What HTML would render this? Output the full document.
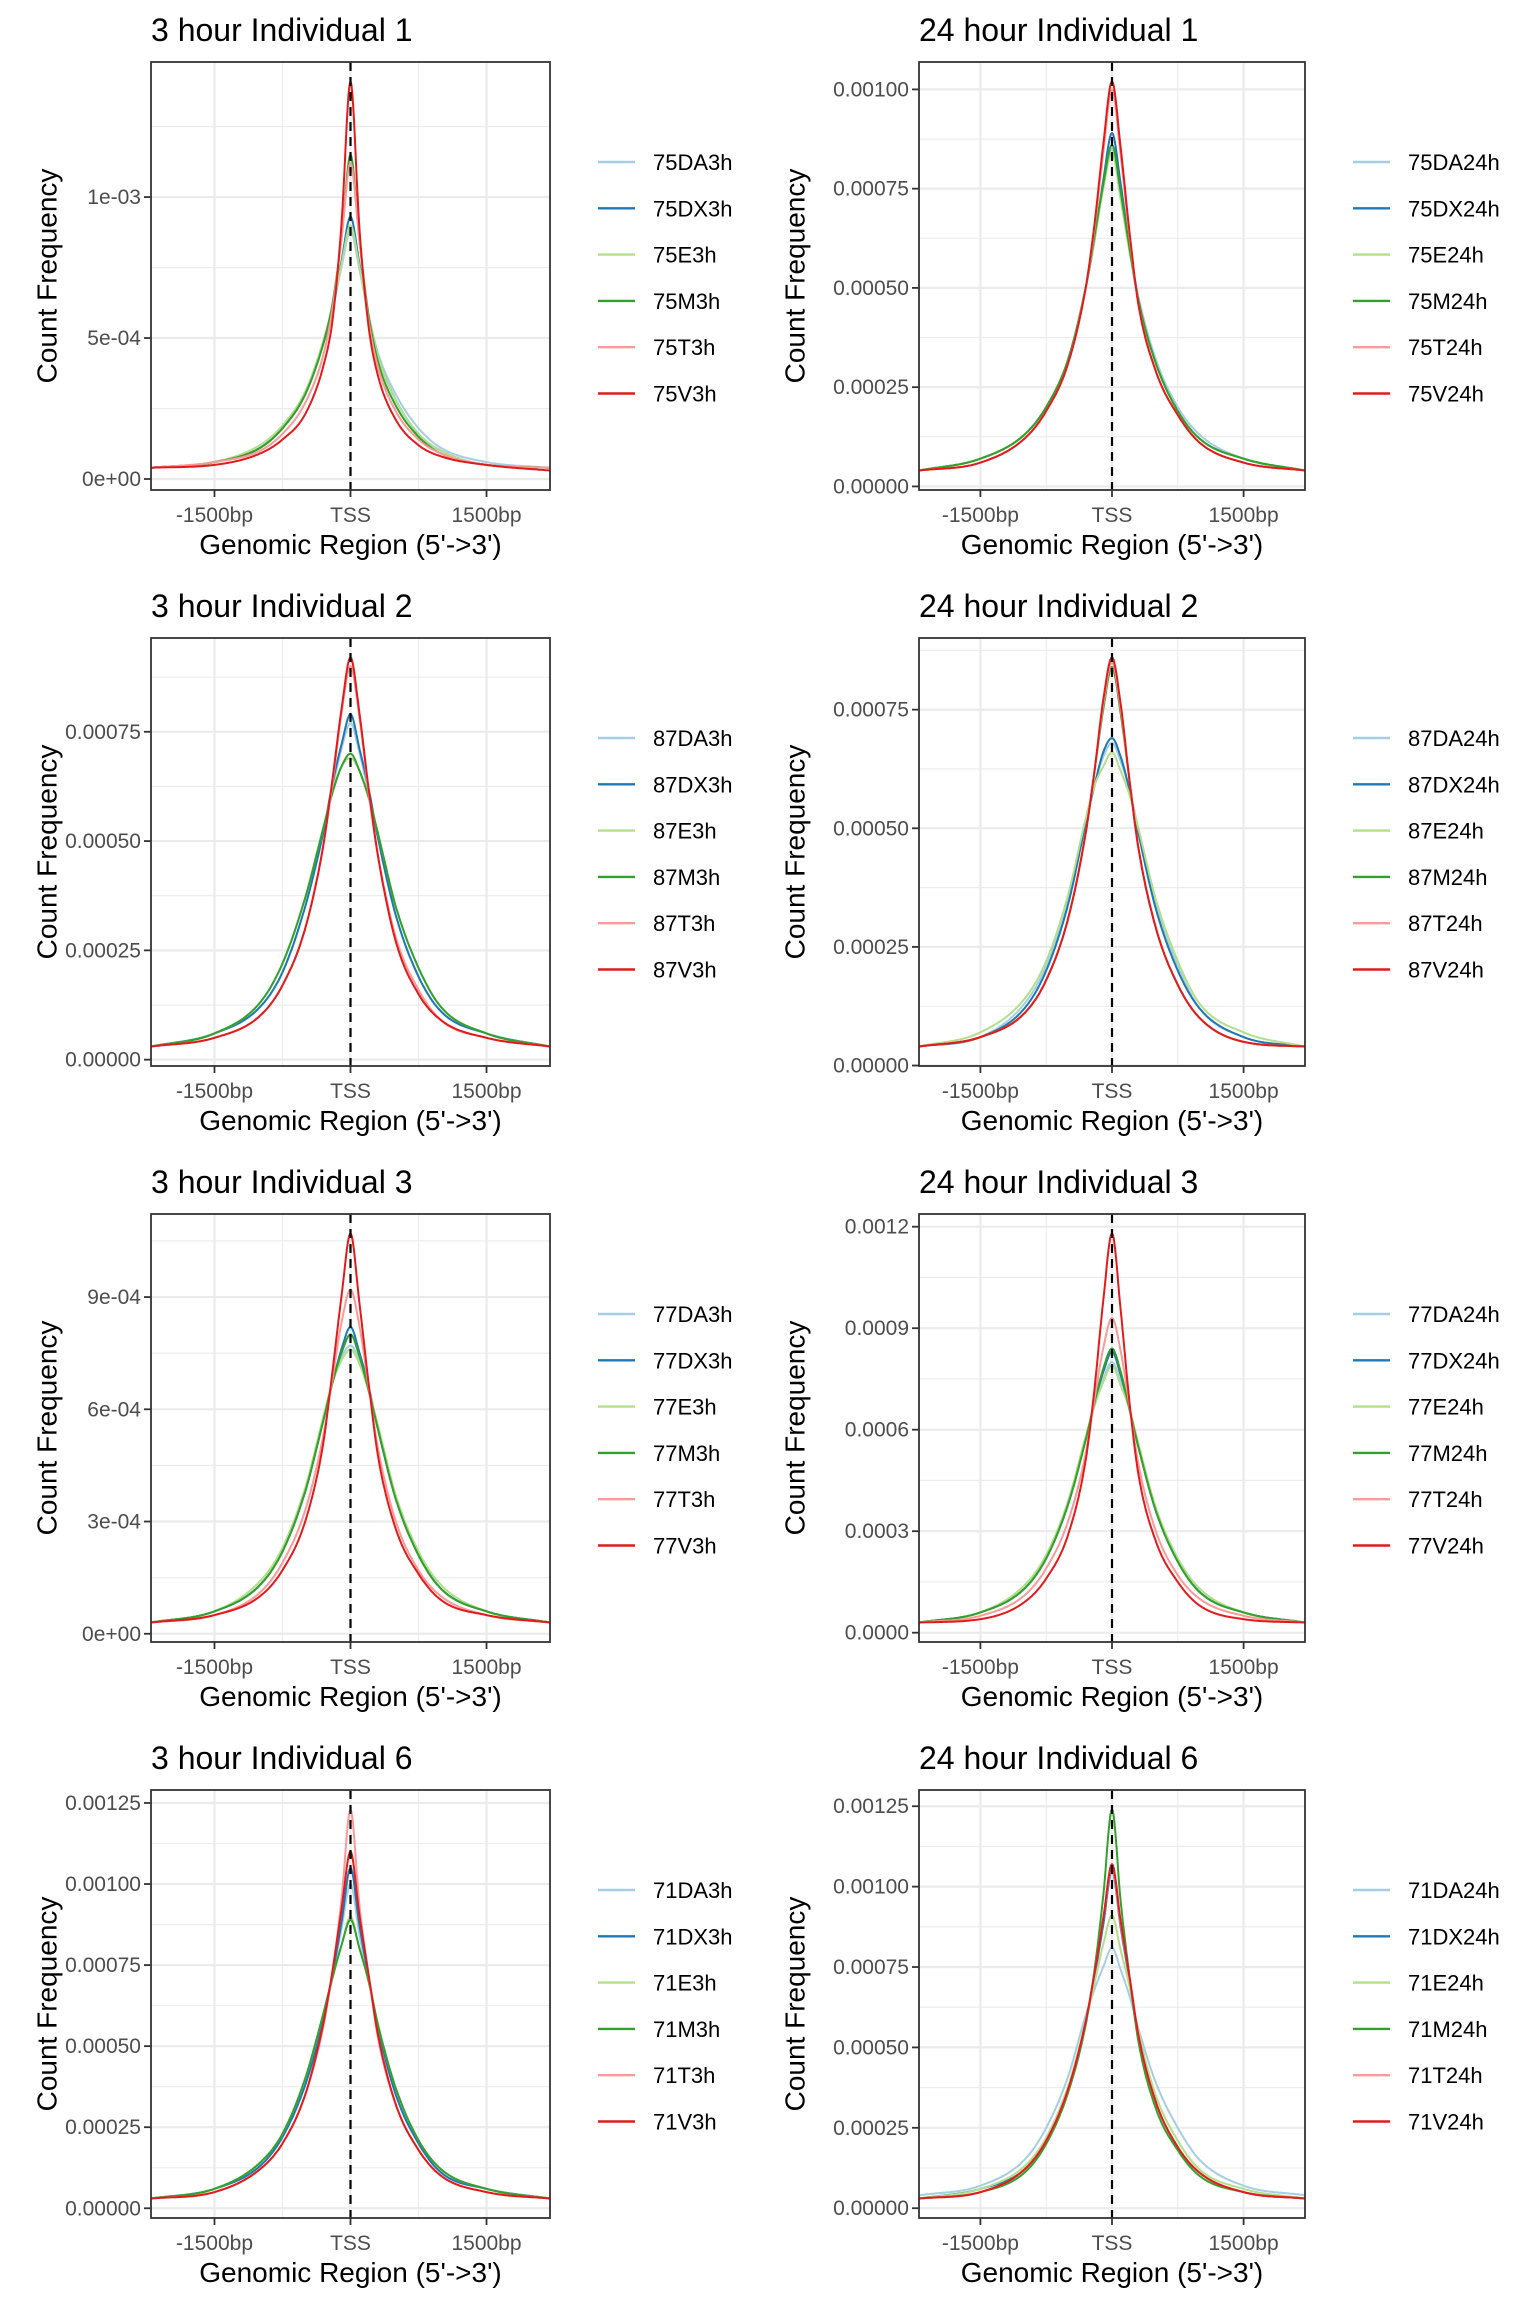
<!DOCTYPE html>
<html><head><meta charset="utf-8"><style>
html,body{margin:0;padding:0;background:#fff}
svg{display:block;font-family:"Liberation Sans",Arial,sans-serif}
</style></head><body>
<svg id="fig" width="1536" height="2304" viewBox="0 0 1536 2304" xmlns="http://www.w3.org/2000/svg">
<rect width="1536" height="2304" fill="#fff"/>
</svg>
<script>
const positions = [-2200,-1500,-1000,-750,-500,-300,-200,-100,0,100,200,300,500,750,1000,1500,2200];
const unit = 1e-5;
const colors = ["#A6CEE3","#1F78B4","#B2DF8A","#33A02C","#FB9A99","#E31A1C"];
const xTickVals = [-1500,0,1500];
const xTickLabels = ["-1500bp","TSS","1500bp"];

const titles = ["3 hour Individual 1","24 hour Individual 1","3 hour Individual 2","24 hour Individual 2","3 hour Individual 3","24 hour Individual 3","3 hour Individual 6","24 hour Individual 6"];
const legends1 = ["75DA3h","75DX3h","75E3h","75M3h","75T3h","75V3h"];
const legends2 = ["75DA24h","75DX24h","75E24h","75M24h","75T24h","75V24h"];
const legends3 = ["87DA3h","87DX3h","87E3h","87M3h","87T3h","87V3h"];
const legends4 = ["87DA24h","87DX24h","87E24h","87M24h","87T24h","87V24h"];
const legends5 = ["77DA3h","77DX3h","77E3h","77M3h","77T3h","77V3h"];
const legends6 = ["77DA24h","77DX24h","77E24h","77M24h","77T24h","77V24h"];
const legends7 = ["71DA3h","71DX3h","71E3h","71M3h","71T3h","71V3h"];
const legends8 = ["71DA24h","71DX24h","71E24h","71M24h","71T24h","71V24h"];

const yTicks1 = [0,0.0005,0.001]; const yLabels1 = ["0e+00","5e-04","1e-03"];
const yTicks2 = [0,0.00025,0.0005,0.00075,0.001]; const yLabels2 = ["0.00000","0.00025","0.00050","0.00075","0.00100"];
const yTicks3 = [0,0.00025,0.0005,0.00075]; const yLabels3 = ["0.00000","0.00025","0.00050","0.00075"];
const yTicks4 = [0,0.00025,0.0005,0.00075]; const yLabels4 = ["0.00000","0.00025","0.00050","0.00075"];
const yTicks5 = [0,0.0003,0.0006,0.0009]; const yLabels5 = ["0e+00","3e-04","6e-04","9e-04"];
const yTicks6 = [0,0.0003,0.0006,0.0009,0.0012]; const yLabels6 = ["0.0000","0.0003","0.0006","0.0009","0.0012"];
const yTicks7 = [0,0.00025,0.0005,0.00075,0.001,0.00125]; const yLabels7 = ["0.00000","0.00025","0.00050","0.00075","0.00100","0.00125"];
const yTicks8 = [0,0.00025,0.0005,0.00075,0.001,0.00125]; const yLabels8 = ["0.00000","0.00025","0.00050","0.00075","0.00100","0.00125"];

const p1DA=[4,6,11,18,30,48,60,75,88,74,58,45,30,18,11,6,4];
const p1DX=[4,6,11,18,30,48,60,77,93,76,58,44,28,16,10,5,4];
const p1E=[4,6,12,19,31,49,61,76,90,75,58,44,28,16,10,5,4];
const p1M=[4,6,11,18,30,48,62,85,115,84,58,42,26,15,9,5,4];
const p1T=[4,6,10,16,27,44,60,85,112,84,56,40,24,14,9,5,4];
const p1V=[4,5,9,14,23,40,56,90,141,88,54,37,21,12,8,5,3];
const p2DA=[4,7,13,20,32,50,62,75,85,73,60,48,32,20,13,7,4];
const p2DX=[4,7,13,20,32,50,62,77,89,76,60,47,31,19,12,7,4];
const p2E=[4,7,13,20,32,50,62,75,84,72,59,47,31,19,12,7,4];
const p2M=[4,7,13,20,32,50,63,76,86,74,60,47,31,19,12,7,4];
const p2T=[4,6,12,19,31,50,65,84,100,83,63,46,29,18,11,6,4];
const p2V=[4,6,12,19,31,50,66,86,102,85,64,46,29,18,11,6,4];
const p3DA=[3,6,12,20,35,52,62,71,77,70,61,51,33,19,11,6,3];
const p3DX=[3,6,12,20,35,52,63,72,79,71,62,51,33,19,11,6,3];
const p3E=[3,6,13,22,37,53,61,67,69,66,60,52,35,21,12,6,3];
const p3M=[3,6,13,22,37,53,61,67,70,66,60,52,35,21,12,6,3];
const p3T=[3,5,10,17,30,49,63,79,90,78,61,47,28,16,9,5,3];
const p3V=[3,5,10,17,30,49,64,80,92,79,62,47,27,15,9,5,3];
const p4DA=[4,6,13,21,35,51,59,65,68,64,58,50,34,21,12,6,4];
const p4DX=[4,6,12,20,34,51,59,66,69,65,58,49,33,20,12,6,4];
const p4E=[4,7,14,22,36,52,59,63,66,62,57,50,35,22,13,7,4];
const p4M=[4,6,11,18,31,49,62,75,84,74,60,46,29,17,10,5,4];
const p4T=[4,6,11,18,31,49,62,76,85,75,60,46,29,17,10,5,4];
const p4V=[4,6,11,18,31,49,62,77,86,76,60,46,29,17,10,5,4];
const p5DA=[3,6,13,22,38,57,67,74,77,73,65,55,36,21,12,6,3];
const p5DX=[3,6,13,22,38,57,67,76,82,75,66,55,36,21,12,6,3];
const p5E=[3,6,14,23,39,58,67,73,76,72,65,56,37,22,13,6,3];
const p5M=[3,6,13,22,38,57,67,75,80,74,65,55,36,21,12,6,3];
const p5T=[3,5,11,19,33,53,68,83,92,82,66,50,30,17,10,5,3];
const p5V=[3,5,10,17,30,51,70,90,107,88,67,48,28,16,9,5,3];
const p6DA=[3,6,13,22,38,57,67,75,80,74,66,55,36,21,12,6,3];
const p6DX=[3,6,13,22,38,57,68,77,83,76,66,55,36,21,12,6,3];
const p6E=[3,6,14,23,39,58,67,74,79,73,66,56,37,22,13,6,3];
const p6M=[3,6,13,22,38,57,68,78,84,77,66,55,36,21,12,6,3];
const p6T=[3,5,11,19,33,53,69,84,93,83,67,50,30,17,10,5,3];
const p6V=[3,4,9,16,29,51,72,98,118,95,68,47,27,15,8,4,3];
const p7DA=[3,6,13,22,38,58,71,86,100,84,70,56,35,20,11,6,3];
const p7DX=[3,6,13,22,38,58,72,88,105,87,71,56,35,20,11,6,3];
const p7E=[3,6,14,23,40,60,71,81,90,80,70,57,37,21,12,6,3];
const p7M=[3,6,14,23,40,60,71,81,89,80,70,57,37,21,12,6,3];
const p7T=[3,5,12,20,35,56,73,95,123,93,72,53,32,18,10,5,3];
const p7V=[3,5,12,20,35,57,73,92,110,90,72,54,32,18,10,5,3];
const p8DA=[4,7,15,25,41,60,68,75,81,74,66,56,39,25,15,7,4];
const p8DX=[3,6,12,21,37,58,72,88,105,87,71,54,33,19,11,5,3];
const p8E=[3,6,13,22,38,58,70,82,91,80,69,55,35,21,12,6,3];
const p8M=[3,5,11,20,36,57,74,97,124,95,72,52,31,18,10,5,3];
const p8T=[3,5,12,21,37,58,73,90,106,88,72,54,33,19,11,5,3];
const p8V=[3,5,12,21,37,58,73,90,107,89,72,54,33,19,11,5,3];

const panelSeries = [
 [p1DA,p1DX,p1E,p1M,p1T,p1V],[p2DA,p2DX,p2E,p2M,p2T,p2V],
 [p3DA,p3DX,p3E,p3M,p3T,p3V],[p4DA,p4DX,p4E,p4M,p4T,p4V],
 [p5DA,p5DX,p5E,p5M,p5T,p5V],[p6DA,p6DX,p6E,p6M,p6T,p6V],
 [p7DA,p7DX,p7E,p7M,p7T,p7V],[p8DA,p8DX,p8E,p8M,p8T,p8V]];
const panelLegends = [legends1,legends2,legends3,legends4,legends5,legends6,legends7,legends8];
const panelYTicks = [yTicks1,yTicks2,yTicks3,yTicks4,yTicks5,yTicks6,yTicks7,yTicks8];
const panelYLabels = [yLabels1,yLabels2,yLabels3,yLabels4,yLabels5,yLabels6,yLabels7,yLabels8];

const NS = "http://www.w3.org/2000/svg";
const svg = document.getElementById("fig");
function mk(tag, attrs, parent) {
  const e = document.createElementNS(NS, tag);
  for (const k in attrs) e.setAttribute(k, attrs[k]);
  (parent || svg).appendChild(e);
  return e;
}
// monotone cubic interpolation (Fritsch-Carlson)
function monotone(xsArr, ysArr) {
  const n = xsArr.length, d = [], m = [];
  for (let i = 0; i < n - 1; i++) d.push((ysArr[i+1]-ysArr[i])/(xsArr[i+1]-xsArr[i]));
  m[0] = d[0]; m[n-1] = d[n-2];
  for (let i = 1; i < n - 1; i++) m[i] = (d[i-1]*d[i] <= 0) ? 0 : (d[i-1]+d[i])/2;
  for (let i = 0; i < n - 1; i++) {
    if (d[i] === 0) { m[i] = 0; m[i+1] = 0; continue; }
    const a = m[i]/d[i], b = m[i+1]/d[i], s = a*a + b*b;
    if (s > 9) { const t = 3/Math.sqrt(s); m[i] = t*a*d[i]; m[i+1] = t*b*d[i]; }
  }
  return function(x) {
    let i = 0;
    while (i < n - 2 && x > xsArr[i+1]) i++;
    const h = xsArr[i+1]-xsArr[i], t = (x - xsArr[i])/h;
    const h00 = 2*t*t*t-3*t*t+1, h10 = t*t*t-2*t*t+t, h01 = -2*t*t*t+3*t*t, h11 = t*t*t-t*t;
    return h00*ysArr[i] + h10*h*m[i] + h01*ysArr[i+1] + h11*h*m[i+1];
  };
}

for (let p = 0; p < 8; p++) {
  const col = p % 2, row = Math.floor(p / 2);
  const oy = row * 576;
  const L = col ? 919 : 151, R = col ? 1305 : 550;
  const T = oy + 62, B = oy + 490;
  const series = panelSeries[p];
  let mn = Infinity, mx = -Infinity;
  series.forEach(s => s.forEach(v => { mn = Math.min(mn, v * unit); mx = Math.max(mx, v * unit); }));
  const pad = (mx - mn) * 0.05;
  const y0 = mn - pad, y1 = mx + pad;
  const xs = v => L + (v + 2200) / 4400 * (R - L);
  const ys = v => B - (v - y0) / (y1 - y0) * (B - T);

  const g = mk("g", {});
  
  

  const title = mk("text", {x: L, y: oy + 41, "font-size": 32, fill: "#000"}, g);
  
  
  title.textContent = titles[p];

  const yt = panelYTicks[p];
  const step = yt[1] - yt[0];
  for (let v = yt[0] - step / 2; v <= y1; v += step / 2) {
    if (v < y0) continue;
    const major = Math.abs(((v - yt[0]) / step) - Math.round((v - yt[0]) / step)) < 1e-6;
    const gl = mk("line", {x1: L, x2: R, y1: ys(v), y2: ys(v), stroke: "#EBEBEB", "stroke-width": major ? 2.2 : 1.1}, g);
    
    
  }
  [-1500,-750,0,750,1500].forEach(v => {
    const major = v % 1500 === 0;
    const gl = mk("line", {x1: xs(v), x2: xs(v), y1: T, y2: B, stroke: "#EBEBEB", "stroke-width": major ? 2.2 : 1.1}, g);
    
    
  });

  series.forEach((s, i) => {
    const f = monotone(positions, s);
    let d = "";
    for (let x = positions[0]; x <= positions[positions.length-1]; x += 10) {
      d += (d ? "L" : "M") + xs(x).toFixed(1) + "," + ys(f(x) * unit).toFixed(1);
    }
    const path = mk("path", {d: d, fill: "none", stroke: colors[i], "stroke-width": 2, "stroke-linejoin": "round"}, g);
    
    
  });

  const vl = mk("line", {x1: xs(0), x2: xs(0), y1: T, y2: B, stroke: "#000", "stroke-width": 2.2, "stroke-dasharray": "9,6"}, g);
  
  

  const bd = mk("rect", {x: L, y: T, width: R - L, height: B - T, fill: "none", stroke: "#333", "stroke-width": 1.8}, g);
  
  

  yt.forEach((v, i) => {
    const tk = mk("line", {x1: L - 7, x2: L, y1: ys(v), y2: ys(v), stroke: "#333", "stroke-width": 1.8}, g);
    
    
    const tl = mk("text", {x: L - 10, y: ys(v) + 7, "text-anchor": "end", "font-size": 21, fill: "#4D4D4D"}, g);
    
    
    tl.textContent = panelYLabels[p][i];
  });
  xTickVals.forEach((v, i) => {
    const tk = mk("line", {x1: xs(v), x2: xs(v), y1: B, y2: B + 7, stroke: "#333", "stroke-width": 1.8}, g);
    
    
    const tl = mk("text", {x: xs(v), y: B + 32, "text-anchor": "middle", "font-size": 21, fill: "#4D4D4D"}, g);
    
    
    tl.textContent = xTickLabels[i];
  });

  const xt = mk("text", {x: (L + R) / 2, y: B + 64, "text-anchor": "middle", "font-size": 28, fill: "#000"}, g);
  
  
  xt.textContent = "Genomic Region (5'->3')";

  const yx = col ? 795 : 47, yc = (T + B) / 2;
  const ytt = mk("text", {x: yx, y: yc, "text-anchor": "middle", "dominant-baseline": "central", "font-size": 28, fill: "#000", transform: "rotate(-90 " + yx + " " + yc + ")"}, g);
  
  
  ytt.textContent = "Count Frequency";

  panelLegends[p].forEach((lab, i) => {
    const ly = oy + 162 + i * 46.3;
    const ll = mk("line", {x1: R + 48, x2: R + 85, y1: ly, y2: ly, stroke: colors[i], "stroke-width": 2.4}, g);
    
    
    const lt = mk("text", {x: R + 103, y: ly + 8, "font-size": 22, fill: "#000"}, g);
    
    
    lt.textContent = lab;
  });
}
</script>
</body></html>
